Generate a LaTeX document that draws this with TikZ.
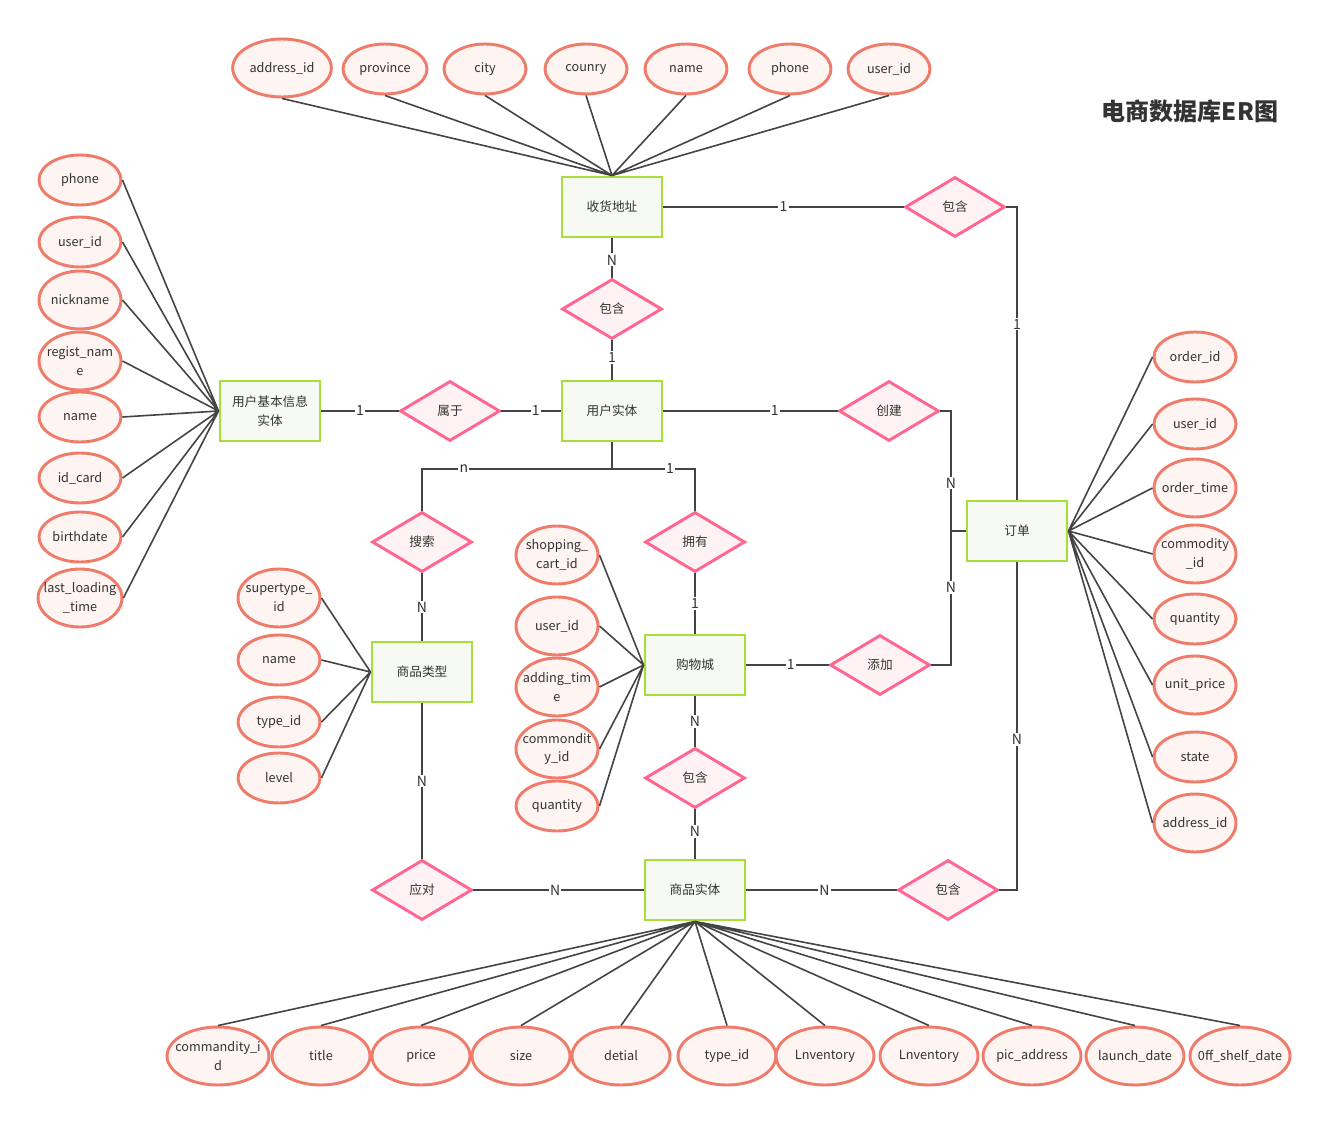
\documentclass[tikz,border=0pt]{standalone}
\usepackage{fontspec}
\setmainfont{Noto Sans CJK SC}
\usepackage{tikz}
\usetikzlibrary{shapes.geometric}
\definecolor{attrline}{HTML}{EF7B6B}
\definecolor{attrfill}{HTML}{FEF4F2}
\definecolor{relline}{HTML}{FF6690}
\definecolor{relfill}{HTML}{FFF2F5}
\definecolor{entline}{HTML}{A6DE3C}
\definecolor{entfill}{HTML}{F7FAF2}
\definecolor{wire}{HTML}{444444}
\definecolor{ink}{HTML}{333333}

\begin{document}
\begin{tikzpicture}[
      x=0.75pt, y=-0.75pt,
      font=\fontsize{9.5pt}{14pt}\selectfont, text=ink,
      entity/.style={draw=entline, fill=entfill, line width=2.2pt,
                     minimum width=75pt, minimum height=45pt, inner sep=1pt, align=center},
      rel/.style={diamond, draw=relline, fill=relfill, line width=2.2pt,
                  minimum width=75pt, minimum height=45pt, inner sep=0pt},
      attr/.style={ellipse, draw=attrline, fill=attrfill, line width=2.2pt,
                   minimum width=61.5pt, minimum height=37.5pt, inner sep=-5pt, align=center},
      tall/.style={minimum height=43.5pt},
      wide/.style={minimum width=73.5pt},
      card/.style={fill=white, inner sep=1pt, font=\fontsize{10.5pt}{12pt}\selectfont},
      link/.style={draw=wire, line width=1.2pt},
    ]
    \useasboundingbox (0,0) rectangle (1328,1123);

    \node[font=\fontsize{18pt}{20pt}\selectfont\bfseries] (title) at (1190,111) {电商数据库ER图};

    % entities
    \node[entity] (addr)  at (612,207) {收货地址};
    \node[entity] (uinfo) at (270,411) {用户基本信息\\实体};
    \node[entity] (user)  at (612,411) {用户实体};
    \node[entity] (order) at (1017,531) {订单};
    \node[entity] (ctype) at (422,672) {商品类型};
    \node[entity] (mall)  at (695,665) {购物城};
    \node[entity] (goods) at (695,890) {商品实体};

    % relations
    \node[rel] (incA)   at (955,207) {包含};
    \node[rel] (incU)   at (612,309) {包含};
    \node[rel] (belong) at (450,411) {属于};
    \node[rel] (create) at (889,411) {创建};
    \node[rel] (search) at (422,542) {搜索};
    \node[rel] (own)    at (695,542) {拥有};
    \node[rel] (add)    at (880,665) {添加};
    \node[rel] (incM)   at (695,778) {包含};
    \node[rel] (match)  at (422,890) {应对};
    \node[rel] (incO)   at (948,890) {包含};

    % attributes of 收货地址
    \node[attr, tall, minimum width=74pt] (aid) at (282,68) {address\_id};
    \node[attr, minimum width=63pt] (aprov)  at (385,69) {province};
    \node[attr] (acity)  at (485,69) {city};
    \node[attr] (acoun)  at (586,69) {counry};
    \node[attr] (aname)  at (686,69) {name};
    \node[attr] (aphone) at (790,69) {phone};
    \node[attr] (auser)  at (889,69) {user\_id};

    % attributes of 用户基本信息实体
    \node[attr] (uphone) at (80,180) {phone};
    \node[attr] (uuid)   at (80,242) {user\_id};
    \node[attr, tall] (unick)  at (80,300) {nickname};
    \node[attr, tall] (ureg)   at (80,361) {regist\_nam\\e};
    \node[attr] (uname)  at (80,417) {name};
    \node[attr] (uidc)   at (80,478) {id\_card};
    \node[attr] (ubirth) at (80,537) {birthdate};
    \node[attr, tall] (ulast)  at (80,598) {last\_loading\\\_time};

    % attributes of 商品类型
    \node[attr, tall] (tsup) at (279,598) {supertype\_\\id};
    \node[attr] (tname)  at (279,660) {name};
    \node[attr] (ttype)  at (279,722) {type\_id};
    \node[attr] (tlevel) at (279,778) {level};

    % attributes of 购物城
    \node[attr, tall] (mcart) at (557,555) {shopping\_\\cart\_id};
    \node[attr, tall] (muser) at (557,626) {user\_id};
    \node[attr, tall] (madd)  at (557,687) {adding\_tim\\e};
    \node[attr, tall] (mcomm) at (557,749) {commondit\\y\_id};
    \node[attr] (mqty)  at (557,806) {quantity};

    % attributes of 订单
    \node[attr] (oid)    at (1195,357) {order\_id};
    \node[attr] (ouser)  at (1195,424) {user\_id};
    \node[attr, tall] (otime)  at (1195,488) {order\_time};
    \node[attr, tall] (ocomm)  at (1195,554) {commodity\\\_id};
    \node[attr] (oqty)   at (1195,619) {quantity};
    \node[attr, tall] (oprice) at (1195,685) {unit\_price};
    \node[attr] (ostate) at (1195,757) {state};
    \node[attr, tall] (oaddr)  at (1195,823) {address\_id};

    % attributes of 商品实体
    \node[attr, tall, wide] (g1)  at (218,1056) {commandity\_i\\d};
    \node[attr, tall, wide] (g2)  at (321,1056) {title};
    \node[attr, tall, wide] (g3)  at (421,1056) {price};
    \node[attr, tall, wide] (g4)  at (521,1056) {size};
    \node[attr, tall, wide] (g5)  at (621,1056) {detial};
    \node[attr, tall, wide] (g6)  at (727,1056) {type\_id};
    \node[attr, tall, wide] (g7)  at (825,1056) {Lnventory};
    \node[attr, tall, wide] (g8)  at (929,1056) {Lnventory};
    \node[attr, tall, wide] (g9)  at (1032,1056) {pic\_address};
    \node[attr, tall, wide] (g10) at (1135,1056) {launch\_date};
    \node[attr, tall, wide] (g11) at (1240,1056) {0ff\_shelf\_date};

    \coordinate (joint)  at (951,531);
    \coordinate (usplit) at (612,469);

    % attribute links
    \draw[link] (aid.south) -- (addr.north) (aprov.south) -- (addr.north)
      (acity.south) -- (addr.north) (acoun.south) -- (addr.north)
      (aname.south) -- (addr.north) (aphone.south) -- (addr.north)
      (auser.south) -- (addr.north);
    \draw[link] (uphone.east) -- (uinfo.west) (uuid.east) -- (uinfo.west)
      (unick.east) -- (uinfo.west) (ureg.east) -- (uinfo.west)
      (uname.east) -- (uinfo.west) (uidc.east) -- (uinfo.west)
      (ubirth.east) -- (uinfo.west) (ulast.east) -- (uinfo.west);
    \draw[link] (tsup.east) -- (ctype.west) (tname.east) -- (ctype.west)
      (ttype.east) -- (ctype.west) (tlevel.east) -- (ctype.west);
    \draw[link] (mcart.east) -- (mall.west) (muser.east) -- (mall.west)
      (madd.east) -- (mall.west) (mcomm.east) -- (mall.west)
      (mqty.east) -- (mall.west);
    \draw[link] (oid.west) -- (order.east) (ouser.west) -- (order.east)
      (otime.west) -- (order.east) (ocomm.west) -- (order.east)
      (oqty.west) -- (order.east) (oprice.west) -- (order.east)
      (ostate.west) -- (order.east) (oaddr.west) -- (order.east);
    \draw[link] (g1.north) -- (goods.south) (g2.north) -- (goods.south)
      (g3.north) -- (goods.south) (g4.north) -- (goods.south)
      (g5.north) -- (goods.south) (g6.north) -- (goods.south)
      (g7.north) -- (goods.south) (g8.north) -- (goods.south)
      (g9.north) -- (goods.south) (g10.north) -- (goods.south)
      (g11.north) -- (goods.south);

    % relation links
    \draw[link] (addr.east) -- node[card] (c1) {1} (incA.west);
    \draw[link] (incA.east) -| node[card, pos=0.7] (c2) {1} (order.north);
    \draw[link] (addr.south) -- node[card, pos=0.55] (c3) {N} (incU.north);
    \draw[link] (incU.south) -- node[card, pos=0.43] (c4) {1} (user.north);
    \draw[link] (uinfo.east) -- node[card] (c5) {1} (belong.west);
    \draw[link] (belong.east) -- node[card, pos=0.58] (c6) {1} (user.west);
    \draw[link] (user.east) -- node[card, pos=0.64] (c7) {1} (create.west);
    \draw[link] (create.east) -| node[card, pos=0.8] (c8) {N} (joint) -- (order.west);
    \draw[link] (add.east) -| node[card, pos=0.79] (c9) {N} (joint);
    \draw[link] (user.south) -- (usplit);
    \draw[link] (usplit) -| node[card, pos=0.39] (c10) {n} (search.north);
    \draw[link] (usplit) -| node[card, pos=0.35] (c11) {1} (own.north);
    \draw[link] (search.south) -- node[card] (c12) {N} (ctype.north);
    \draw[link] (own.south) -- node[card] (c13) {1} (mall.north);
    \draw[link] (mall.east) -- node[card, pos=0.54] (c14) {1} (add.west);
    \draw[link] (mall.south) -- node[card] (c15) {N} (incM.north);
    \draw[link] (incM.south) -- node[card, pos=0.45] (c16) {N} (goods.north);
    \draw[link] (ctype.south) -- node[card] (c17) {N} (match.north);
    \draw[link] (match.east) -- node[card, pos=0.48] (c18) {N} (goods.west);
    \draw[link] (goods.east) -- node[card, pos=0.52] (c19) {N} (incO.west);
    \draw[link] (incO.east) -| node[card, pos=0.73] (c20) {N} (order.south);
  \end{tikzpicture}
\end{document}
